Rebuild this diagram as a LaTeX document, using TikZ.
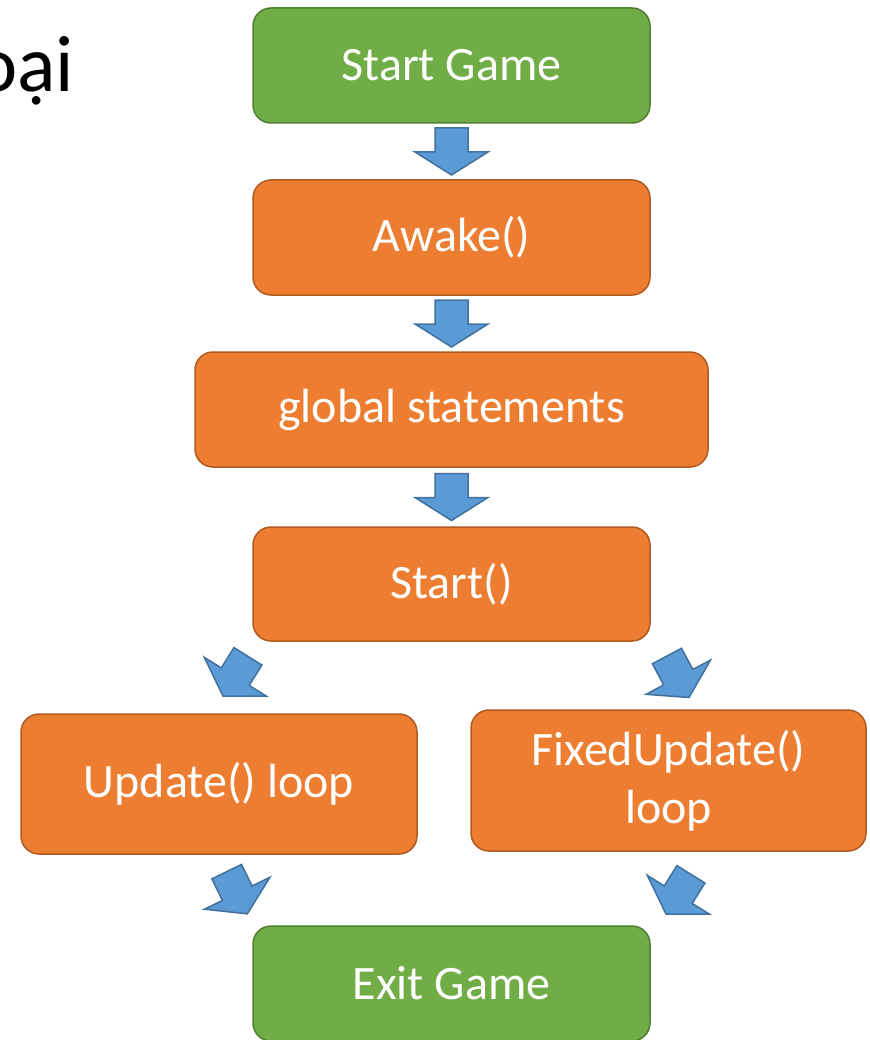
\documentclass[tikz,border=0pt]{standalone}
\usepackage{fontspec}
\setmainfont{Carlito}
\usetikzlibrary{calc}

\definecolor{boxgreen}{HTML}{70AD47}
\definecolor{greenline}{HTML}{507E32}
\definecolor{boxorange}{HTML}{ED7D31}
\definecolor{orangeline}{HTML}{AE5A21}
\definecolor{arrowblue}{HTML}{5B9BD5}
\definecolor{arrowline}{HTML}{41719C}

\tikzset{
	box/.style={rounded corners=18pt, line width=1.5pt, minimum height=115pt, minimum width=397pt,
		text=white, font=\fontsize{48}{58}\selectfont, align=center, inner sep=0pt},
	endbox/.style={box, fill=boxgreen, draw=greenline},
	stepbox/.style={box, fill=boxorange, draw=orangeline},
	blockarrow/.pic={
		\draw[fill=arrowblue, draw=arrowline, line width=1.5pt]
		(-16.5,-23.5)--(16.5,-23.5)--(16.5,.5)--(36.5,.5)--(0,23.5)--(-36.5,.5)--(-16.5,.5)--cycle;}
}

\begin{document}
\begin{tikzpicture}[x=1pt,y=-1pt]
	\useasboundingbox (0,0) rectangle (869,1040);
	
	\node[anchor=base west, inner sep=0pt, font=\fontsize{80}{96}\selectfont] (title) at (-25,92) {oại};
	
	\node[endbox] (start) at (451.5,65.5) {Start Game};
	\node[stepbox] (awake) at (451.5,237.5) {Awake()};
	\node[stepbox, minimum width=513pt] (glob) at (451.5,409.5) {global statements};
	\node[stepbox, minimum height=114pt] (strt) at (451.5,584) {Start()};
	\node[stepbox, minimum width=396pt, minimum height=140pt] (upd) at (219,784) {Update() loop};
	\node[stepbox, minimum width=395pt, minimum height=141pt] (fixed) at (668.5,780.5) {FixedUpdate()\\loop};
	\node[endbox] (exitg) at (451.5,983.5) {Exit Game};
	
	\pic at ($(start.south)!.5!(awake.north)$) {blockarrow};
	\pic at ($(awake.south)!.5!(glob.north)$) {blockarrow};
	\pic at ($(glob.south)!.5!(strt.north)$) {blockarrow};
	\pic[rotate=-32] at ($(upd.north)+(16.5,-37)$) {blockarrow};
	\pic[rotate=28] at ($(fixed.north)+(9.5,-32.5)$) {blockarrow};
	\pic[rotate=26] at ($(upd.south)+(18,38)$) {blockarrow};
	\pic[rotate=-32] at ($(fixed.south)+(10,42.5)$) {blockarrow};
\end{tikzpicture}
\end{document}
